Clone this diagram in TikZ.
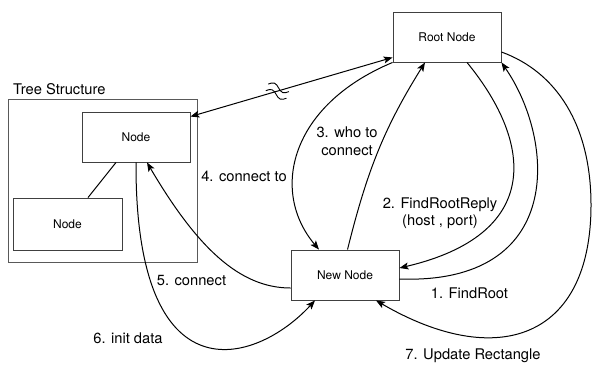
\documentclass[tikz,border=0pt]{standalone}
\usepackage{fontspec}
\setmainfont{TeX Gyre Heros}
\usetikzlibrary{arrows.meta}

\begin{document}
\begin{tikzpicture}[x=1pt,y=1pt,>={Stealth[length=9pt,width=7pt,inset=2pt]},
	box/.style={draw=black!75,line width=0.9pt,minimum width=108pt,minimum height=50pt,inner sep=0pt,font=\fontsize{12}{14}\selectfont},
	lbl/.style={font=\fontsize{14.7}{17.5}\selectfont,inner sep=0pt,align=center},
	msg/.style={line width=1pt,->}]
	\useasboundingbox (0,0) rectangle (593,-365);
	\node[box,draw=black!65,minimum width=189pt,minimum height=163pt] at (102.5,-180.5) (tree) {};
	\node[lbl,anchor=west] at (13,-89) (treename) {Tree Structure};
	\node[box] at (447,-37) (root) {Root Node};
	\node[box] at (136,-137) (node1) {Node};
	\node[box,minimum width=109pt,minimum height=52pt] at (67.5,-224) (node2) {Node};
	\node[box] at (345,-275) (new) {New Node};
	\coordinate (far) at (591,-205);

	\draw[line width=1pt] ([xshift=-20pt]node1.south) -- ([xshift=20.5pt]node2.north);
	\draw[msg,<->] ([yshift=-5pt]node1.north east) -- coordinate[pos=0.43] (brk) ([yshift=5pt]root.south west);
	\draw[line width=0.9pt,shift={(brk)},rotate=-20] (-11,3.5) sin (-5.5,6.5) cos (0,3.5) sin (5.5,0.5) cos (11,3.5)
		(-11,-3.5) sin (-5.5,-0.5) cos (0,-3.5) sin (5.5,-6.5) cos (11,-3.5);

	\draw[msg] ([yshift=-4pt]new.east) .. controls +(166,-6) and +(54,-78) .. (root.south east);
	\draw[msg] ([xshift=20pt]root.south) .. controls +(68,-83) and +(141,33) .. ([yshift=7pt]new.east);
	\draw[msg] ([xshift=2.5pt]new.north) to[out=76,in=238] ([xshift=-22pt]root.south);
	\draw[msg] (root.south west) .. controls +(-103,-43) and +(-49,58) .. ([xshift=-26pt]new.north);
	\draw[msg] ([yshift=-13pt]new.west) .. controls +(-51,0) and +(50,-85) .. ([xshift=11pt]node1.south);
	\draw[msg] (node1.south) .. controls +(-1,-238) and +(-60,-65) .. ([xshift=-30pt]new.south);
	\draw[msg] ([yshift=-15pt]root.east) .. controls +(55,-20) and +(0,80) .. (far)
		.. controls +(0,-135) and +(120,-70) .. ([xshift=31pt]new.south);

	\node[lbl] at (469.5,-293) (l1) {1. FindRoot};
	\node[lbl] at (440,-213) (l2) {2. FindRootReply\\(host , port)};
	\node[lbl] at (347,-141) (l3) {3. who to\\connect};
	\node[lbl] at (244,-176) (l4) {4. connect to};
	\node[lbl] at (191.5,-280) (l5) {5. connect};
	\node[lbl] at (128,-338) (l6) {6. init data};
	\node[lbl] at (473,-356) (l7) {7. Update Rectangle};
\end{tikzpicture}
\end{document}
